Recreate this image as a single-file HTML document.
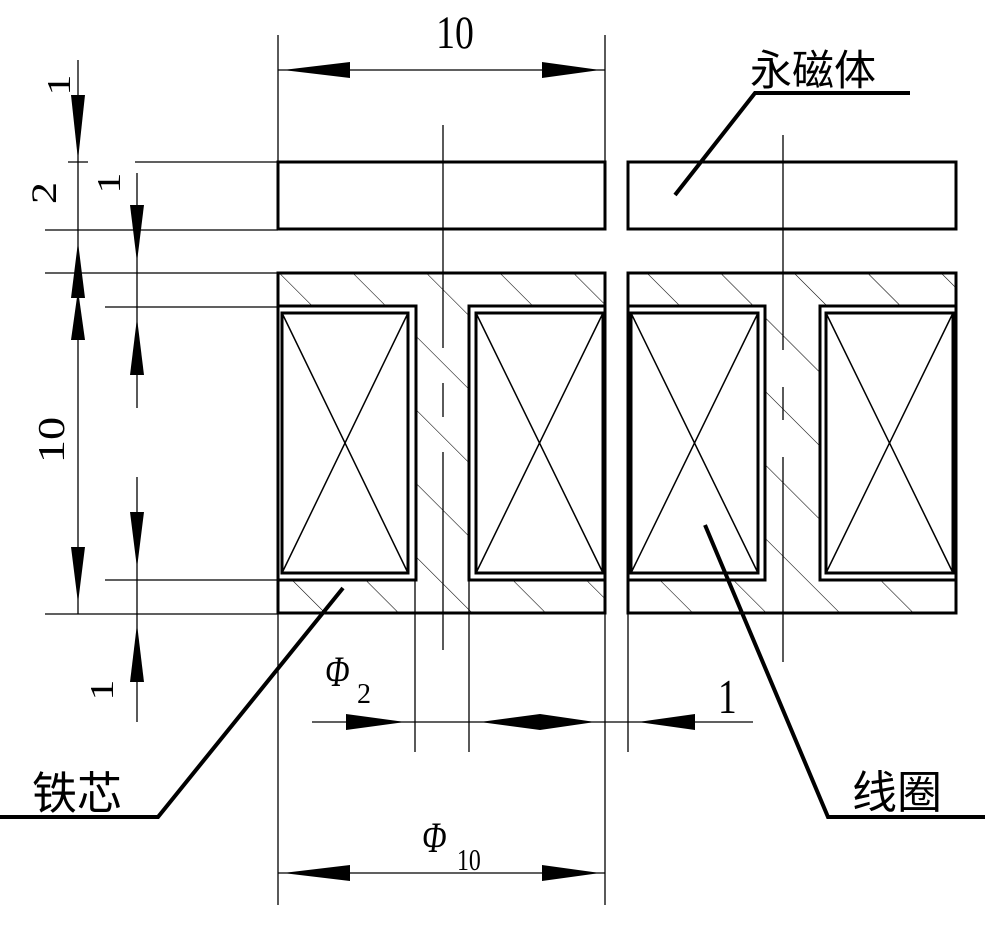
<!DOCTYPE html>
<html><head><meta charset="utf-8"><style>
html,body{margin:0;padding:0;background:#fff;}
svg{display:block;}
text{font-family:"Liberation Serif",serif;fill:#000;}
.cj{font-family:"Liberation Sans","Noto Sans CJK SC",sans-serif;}
</style></head><body>
<svg width="1000" height="925" viewBox="0 0 1000 925" xmlns="http://www.w3.org/2000/svg">
<defs>
<pattern id="h" patternUnits="userSpaceOnUse" width="52" height="52" patternTransform="translate(300,0) rotate(-45)">
<line x1="0" y1="0" x2="0" y2="52" stroke="#000" stroke-width="1.1"/>
</pattern>
</defs>
<rect width="1000" height="925" fill="#fff"/>

<g fill="url(#h)">
<rect x="278" y="273" width="327" height="33"/>
<rect x="628" y="273" width="328" height="33"/>
<rect x="278" y="580" width="327" height="33"/>
<rect x="628" y="580" width="328" height="33"/>
<rect x="416" y="306" width="53" height="274"/>
<rect x="765" y="306" width="55" height="274"/>
</g>

<g fill="none" stroke="#000" stroke-width="3">
<rect x="278" y="162" width="327" height="67"/>
<rect x="628" y="162" width="328" height="67"/>
<rect x="278" y="273" width="327" height="340"/>
<rect x="628" y="273" width="328" height="340"/>
<rect x="278" y="306" width="138" height="274" fill="#fff"/>
<rect x="469" y="306" width="136" height="274" fill="#fff"/>
<rect x="628" y="306" width="137" height="274" fill="#fff"/>
<rect x="820" y="306" width="136" height="274" fill="#fff"/>
<rect x="282" y="313" width="126" height="260"/>
<rect x="476" y="313" width="127" height="260"/>
<rect x="631" y="313" width="127" height="260"/>
<rect x="826" y="313" width="127" height="260"/>
</g>
<g stroke="#000" stroke-width="1.5">
<line x1="282" y1="313" x2="408" y2="573"/><line x1="408" y1="313" x2="282" y2="573"/>
<line x1="476" y1="313" x2="603" y2="573"/><line x1="603" y1="313" x2="476" y2="573"/>
<line x1="631" y1="313" x2="758" y2="573"/><line x1="758" y1="313" x2="631" y2="573"/>
<line x1="826" y1="313" x2="953" y2="573"/><line x1="953" y1="313" x2="826" y2="573"/>
</g>

<g stroke="#000" stroke-width="1.3">
<line x1="443" y1="125" x2="443" y2="348"/>
<line x1="443" y1="383" x2="443" y2="417"/>
<line x1="443" y1="452" x2="443" y2="650"/>
<line x1="783" y1="135" x2="783" y2="350"/>
<line x1="783" y1="387" x2="783" y2="420"/>
<line x1="783" y1="457" x2="783" y2="662"/>
</g>

<g stroke="#000" stroke-width="1.3">
<line x1="278" y1="35" x2="278" y2="162"/>
<line x1="605" y1="35" x2="605" y2="162"/>
<line x1="278" y1="70" x2="605" y2="70"/>
<line x1="135" y1="162" x2="278" y2="162"/>
<line x1="45" y1="230" x2="278" y2="230"/>
<line x1="45" y1="273" x2="278" y2="273"/>
<line x1="105" y1="307" x2="278" y2="307"/>
<line x1="105" y1="580" x2="278" y2="580"/>
<line x1="45" y1="614" x2="278" y2="614"/>
<line x1="78" y1="60" x2="78" y2="614"/>
<line x1="68" y1="162" x2="88" y2="162"/>
<line x1="137" y1="173" x2="137" y2="408"/>
<line x1="137" y1="477" x2="137" y2="722"/>
<line x1="278" y1="613" x2="278" y2="905"/>
<line x1="605" y1="613" x2="605" y2="905"/>
<line x1="415" y1="580" x2="415" y2="752"/>
<line x1="469" y1="580" x2="469" y2="752"/>
<line x1="628" y1="613" x2="628" y2="752"/>
<line x1="312" y1="722" x2="753" y2="722"/>
<line x1="278" y1="873" x2="605" y2="873"/>
</g>

<g fill="#000">
<polygon points="283,70 350,62 350,78"/>
<polygon points="600,70 542,62 542,78"/>
<polygon points="78,160 71,95 85,95"/>
<polygon points="78,242 71,298 85,298"/>
<polygon points="78,290 71,340 85,340"/>
<polygon points="78,603 71,547 85,547"/>
<polygon points="137,262 130,205 144,205"/>
<polygon points="137,318 130,375 144,375"/>
<polygon points="137,568 130,512 144,512"/>
<polygon points="137,624 130,682 144,682"/>
<polygon points="405,722 346,714 346,730"/>
<polygon points="480,722 540,714 595,722 540,730"/>
<polygon points="638,722 695,714 695,730"/>
<polygon points="283,873 350,865 350,881"/>
<polygon points="600,873 542,865 542,881"/>
</g>

<g stroke="#000" stroke-width="4" fill="none">
<polyline points="0,817 158,817 343,588"/>
<polyline points="985,817 828,817 705,525"/>
<polyline points="910,93 755,93 675,195"/>
</g>

<text font-size="42" transform="translate(455,48) scale(0.9,1.1)" text-anchor="middle">10</text>
<text font-size="38" transform="translate(70,85) rotate(-90) scale(1.1,0.9)" text-anchor="middle">1</text>
<text font-size="40" transform="translate(56,193) rotate(-90) scale(1.1,0.9)" text-anchor="middle">2</text>
<text font-size="38" transform="translate(120,183) rotate(-90) scale(1.1,0.9)" text-anchor="middle">1</text>
<text font-size="42" transform="translate(64,440) rotate(-90) scale(1.1,0.9)" text-anchor="middle">10</text>
<text font-size="38" transform="translate(113,690) rotate(-90) scale(1.1,0.9)" text-anchor="middle">1</text>
<text font-size="38" font-style="italic" transform="translate(325,686) scale(0.85,1.15)">Φ</text>
<text x="357" y="703" font-size="28">2</text>
<text font-size="44" transform="translate(718,713) scale(0.85,1.1)">1</text>
<text font-size="38" font-style="italic" transform="translate(422,852) scale(0.85,1.15)">Φ</text>
<text font-size="28" transform="translate(457,870) scale(0.85,1.1)">10</text>
<text class="cj" x="32" y="809" font-size="45">铁芯</text>
<text class="cj" x="852" y="808" font-size="45">线圈</text>
<text class="cj" x="750" y="85" font-size="42">永磁体</text>
</svg>
</body></html>
